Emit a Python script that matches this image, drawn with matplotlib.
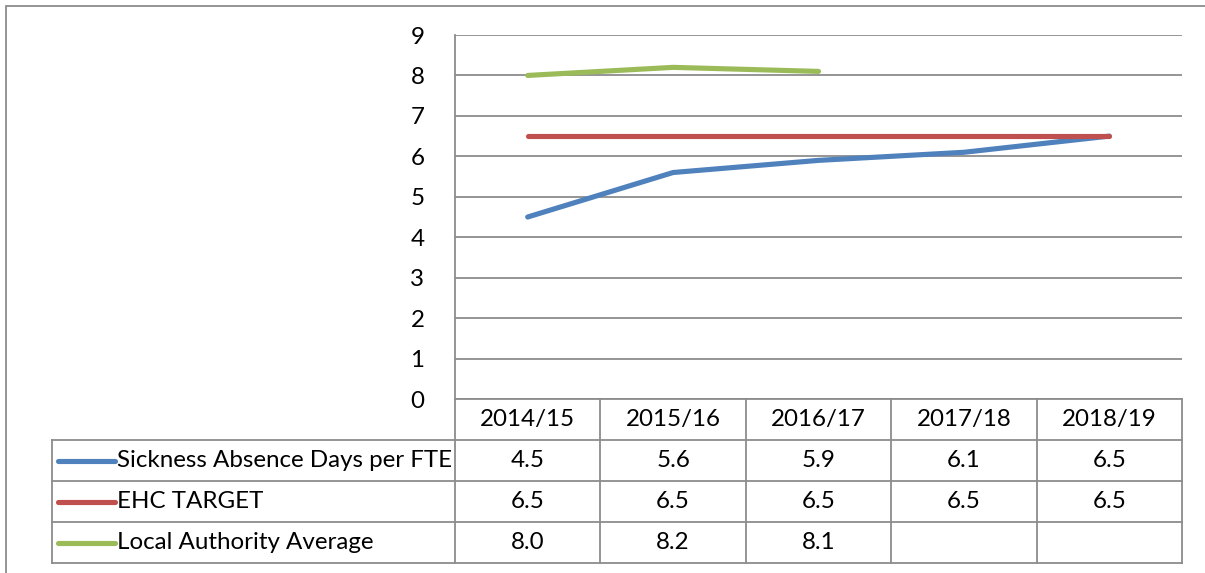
import numpy as np
import matplotlib.pyplot as plt
from matplotlib.lines import Line2D
from matplotlib.patches import Rectangle

plt.rcParams['font.family'] = ['Lato', 'DejaVu Sans']

years = ["2014/15", "2015/16", "2016/17", "2017/18", "2018/19"]
sickness = [4.5, 5.6, 5.9, 6.1, 6.5]
target = [6.5, 6.5, 6.5, 6.5, 6.5]
la_avg = [8.0, 8.2, 8.1, np.nan, np.nan]

names = ["Sickness Absence Days per FTE", "EHC TARGET", "Local Authority Average"]
colors = ["#4F81BD", "#C0504D", "#9BBB59"]
series = [sickness, target, la_avg]

W, H = 1205, 573
fig = plt.figure(figsize=(W / 100, H / 100), dpi=100)
grid = "#8c8c8c"
fs = 17.4

# outer chart border (cut off at right and bottom)
fig.patches.append(Rectangle((6 / W, -0.1), 1.2, 1 - 6 / H + 0.1, transform=fig.transFigure,
                             fill=False, edgecolor=grid, lw=1.3))

# plot area
x0, x1, y0, y1 = 455, 1182, 35, 399
ax = fig.add_axes([x0 / W, 1 - y1 / H, (x1 - x0) / W, (y1 - y0) / H])
x = np.arange(len(years))
for vals, c in zip(series, colors):
    ax.plot(x, vals, color=c, lw=3.7, solid_capstyle='round', solid_joinstyle='round', zorder=3)
ax.set_xlim(-0.5, len(years) - 0.5)
ax.set_ylim(0, 9)
ax.set_yticks(range(10))
ax.set_xticks([])
ax.yaxis.grid(True, color=grid, lw=1.3)
ax.set_axisbelow(True)
for s in ["top", "right", "bottom"]:
    ax.spines[s].set_visible(False)
ax.spines["left"].set_color(grid)
ax.spines["left"].set_linewidth(1.3)
ax.tick_params(axis='y', length=0, pad=22, labelsize=fs)
for lab in ax.get_yticklabels():
    lab.set_horizontalalignment('right')

# data table
unit = (x1 - x0) / len(years)
tl = 52
tab = fig.add_axes([tl / W, 1 - 563 / H, (x1 - tl) / W, (563 - y1) / H])
left = -0.5 - (x0 - tl) / unit
tab.set_xlim(left, len(years) - 0.5)
tab.set_ylim(4, 0)
tab.axis('off')
kw = dict(color=grid, lw=1.3, clip_on=False)
n = len(years)
# header row
tab.plot([-0.5, n - 0.5], [0, 0], **kw)
for i in range(n + 1):
    tab.plot([i - 0.5, i - 0.5], [0, 4], **kw)
for r in range(1, 5):
    tab.plot([left, n - 0.5], [r, r], **kw)
tab.plot([left, left], [1, 4], **kw)
for i, yr in enumerate(years):
    tab.text(i, 0.5, yr, ha='center', va='center', fontsize=fs)
for r, (nm, vals, c) in enumerate(zip(names, series, colors)):
    yc = r + 1.5
    tab.add_line(Line2D([left + 6 / unit, left + 63 / unit], [yc, yc], color=c, lw=3.7,
                        solid_capstyle='round', clip_on=False))
    tab.text(left + 65 / unit, yc, nm, ha='left', va='center', fontsize=fs)
    for i, v in enumerate(vals):
        if not np.isnan(v):
            tab.text(i, yc, f"{v:.1f}", ha='center', va='center', fontsize=fs)

fig.savefig("out.png", dpi=100)
